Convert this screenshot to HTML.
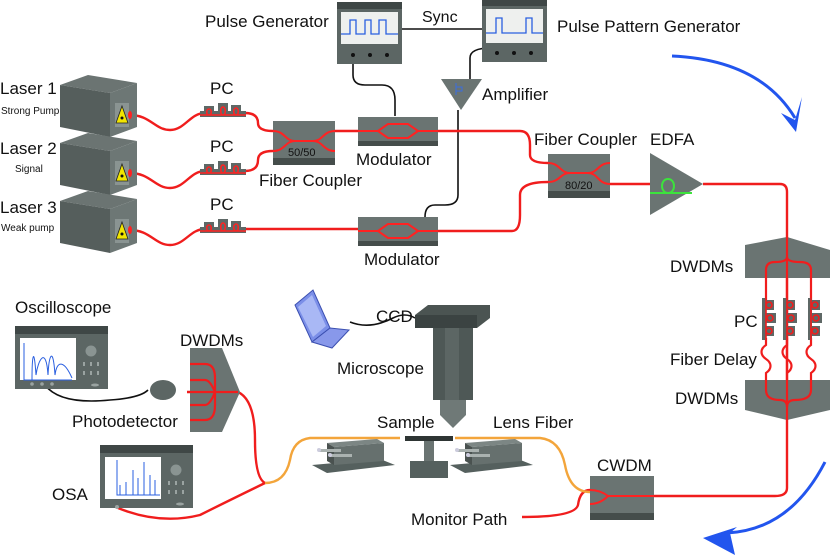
<!DOCTYPE html>
<html><head><meta charset="utf-8"><style>
html,body{margin:0;padding:0;background:#fff}
svg{display:block}
text{font-family:"Liberation Sans",sans-serif;fill:#111}
</style></head><body>
<svg width="830" height="558" viewBox="0 0 830 558" xmlns="http://www.w3.org/2000/svg">
<defs>
<g id="laser">
<polygon points="0,10 28,0 77,8 50,18" fill="#6b7472"/>
<polygon points="0,10 50,18 50,62 0,52" fill="#555e5c"/>
<polygon points="50,18 77,8 77,52 50,62" fill="#6d7775"/>
<rect x="55" y="28" width="14" height="24" fill="#8a9492"/>
<polygon points="62,31 68,48 56,48" fill="#f2e500" stroke="#222" stroke-width="0.8"/>
<circle cx="62" cy="43" r="1.5" fill="#111"/>
</g>
<g id="pc">
<rect x="0" y="8" width="46" height="6" fill="#5e6866"/>
<rect x="4" y="3" width="10" height="7" fill="#5e6866"/>
<rect x="18" y="0" width="10" height="10" fill="#5e6866"/>
<rect x="31" y="2" width="10" height="8" fill="#5e6866"/>
<path d="M0,12 H46 M9,12 c-3,0 -3,-6 0,-6 c3,0 3,6 0,6 M23,12 c-3,0 -3,-8 0,-8 c3,0 3,8 0,8 M36,12 c-3,0 -3,-7 0,-7 c3,0 3,7 0,7" fill="none" stroke="#f22" stroke-width="1.6"/>
</g>
<g id="mod">
<rect x="0" y="0" width="80" height="29" fill="#6a7472"/>
<rect x="0" y="24" width="80" height="5" fill="#454d4b"/>
<path d="M0,14 H20 L30,7 H50 L60,14 H80 M20,14 L30,21 H50 L60,14" fill="none" stroke="#f22" stroke-width="2"/>
</g>
<g id="scope">
<rect x="0" y="0" width="93" height="63" fill="#5c6664"/>
<rect x="0" y="0" width="93" height="8" fill="#3f4746"/>
<rect x="5" y="12" width="56" height="42" fill="#fff"/>
<circle cx="76" cy="25" r="5.5" fill="#8a9492"/>
<g fill="#9aa3a1"><rect x="68" y="36" width="2" height="4"/><rect x="75" y="36" width="2" height="4"/><rect x="82" y="36" width="2" height="4"/><rect x="68" y="45" width="2" height="4"/><rect x="75" y="45" width="2" height="4"/><rect x="82" y="45" width="2" height="4"/></g>
<ellipse cx="80" cy="59" rx="4" ry="1.5" fill="#9aa3a1"/>
</g>
<g id="stage">
<polygon points="0,32 68,26 83,32 15,40" fill="#55605e"/>
<polygon points="15,10 65,6 72,10 22,14" fill="#7c8684"/>
<polygon points="15,10 22,14 22,32 15,28" fill="#4a5250"/>
<polygon points="22,14 72,10 72,28 22,32" fill="#66706e"/>
<rect x="7" y="16" width="22" height="3" fill="#aab2b0"/>
<rect x="18" y="21" width="22" height="3" fill="#aab2b0"/>
<circle cx="7" cy="17" r="2" fill="#ccd"/>
<circle cx="18" cy="22" r="2" fill="#ccd"/>
</g>
</defs>

<!-- black cables -->
<g fill="none" stroke="#111" stroke-width="1.6">
<path d="M402,29 H482"/>
<path d="M353,50 V75 Q353,85 365,85 H382 Q395,85 395,100 V116"/>
<path d="M491,48 Q470,48 470,58 V79"/>
<path d="M458,110 V195 Q458,205 445,205 H435 Q425,205 425,217"/>
<path d="M350,322 Q370,330 393,318 Q405,312 415,318"/>
<path d="M45,385 Q60,405 110,400 Q140,398 148,390"/>
</g>

<!-- red fibers -->
<g fill="none" stroke="#f01d1d" stroke-width="2.4">
<path d="M130,115 C150,115 155,130 170,130 C185,130 190,113 205,113"/>
<path d="M130,173 C150,173 155,188 170,188 C185,188 190,171 205,171"/>
<path d="M130,230 C150,230 155,245 170,245 C185,245 190,229 205,229"/>
<path d="M245,113 Q258,113 258,123 Q258,131 273,131"/>
<path d="M245,171 Q258,171 258,160 Q258,151 273,151"/>
<path d="M245,229 H358"/>
<path d="M335,131 H358"/>
<path d="M438,131 H520 Q530,131 530,145 V155 Q530,163 548,163"/>
<path d="M438,231 H512 Q520,231 520,215 V195 Q520,182 548,182"/>
<path d="M610,184 H650"/>
<path d="M703,184 H780 Q787,184 787,192 V488 Q787,496 775,496 H654"/>
<path d="M590,490 Q580,490 578,505 Q575,517 522,517"/>
<path d="M187,392 H205"/>
<path d="M238,392 Q255,400 255,440 Q255,478 265,483 Q230,500 200,515 Q160,525 118,508"/>
</g>
<!-- orange fiber -->
<path d="M265,483 Q285,483 290,460 Q293,440 310,438 H400 M455,438 H540 Q560,440 565,465 Q570,492 590,492" fill="none" stroke="#f3a53b" stroke-width="2.4"/>

<!-- lasers -->
<use href="#laser" x="60" y="75"/>
<use href="#laser" x="60" y="133"/>
<use href="#laser" x="60" y="191"/>
<g fill="#f22"><ellipse cx="130" cy="115" rx="2" ry="4"/><ellipse cx="130" cy="173" rx="2" ry="4"/><ellipse cx="130" cy="230" rx="2" ry="4"/></g>
<text x="0" y="94" font-size="17">Laser 1</text>
<text x="1" y="114" font-size="10">Strong Pump</text>
<text x="0" y="154" font-size="17">Laser 2</text>
<text x="15" y="172" font-size="10">Signal</text>
<text x="0" y="213" font-size="17">Laser 3</text>
<text x="1" y="231" font-size="10">Weak pump</text>

<use href="#pc" x="200" y="103"/>
<use href="#pc" x="200" y="161"/>
<use href="#pc" x="200" y="219"/>
<text x="210" y="94" font-size="17">PC</text>
<text x="210" y="152" font-size="17">PC</text>
<text x="210" y="210" font-size="17">PC</text>

<!-- 50/50 coupler -->
<rect x="273" y="121" width="62" height="44" fill="#6a7472"/>
<rect x="273" y="158" width="62" height="7" fill="#454d4b"/>
<path d="M273,131 C285,131 285,141 295,141 H313 C323,141 323,131 335,131 M273,151 C285,151 285,141 295,141 M313,141 C323,141 323,151 335,151" fill="none" stroke="#f22" stroke-width="2"/>
<text x="288" y="156" font-size="11">50/50</text>
<text x="259" y="186" font-size="17">Fiber Coupler</text>

<use href="#mod" x="358" y="117"/>
<use href="#mod" x="358" y="217"/>
<text x="356" y="165" font-size="17">Modulator</text>
<text x="364" y="265" font-size="17">Modulator</text>

<!-- 80/20 coupler -->
<rect x="548" y="154" width="62" height="44" fill="#6a7472"/>
<rect x="548" y="191" width="62" height="7" fill="#454d4b"/>
<path d="M548,163 C560,163 560,173 570,173 H588 C598,173 598,163 610,163 M548,182 C560,182 560,173 570,173 M588,173 C598,173 598,184 610,184" fill="none" stroke="#f22" stroke-width="2"/>
<text x="565" y="189" font-size="11">80/20</text>
<text x="534" y="145" font-size="17">Fiber Coupler</text>

<!-- EDFA -->
<polygon points="650,153 703,184 650,215" fill="#6a7472"/>
<path d="M650,193 H692 M668,193 c-8,0 -8,-14 0,-14 c8,0 8,14 0,14" fill="none" stroke="#3ce33c" stroke-width="2"/>
<text x="650" y="145" font-size="17">EDFA</text>

<!-- pulse generators -->
<rect x="337" y="2" width="65" height="62" fill="#5c6664"/>
<rect x="337" y="2" width="65" height="7" fill="#3f4746"/>
<rect x="341" y="12" width="57" height="32" fill="#eef0ee"/>
<path d="M341,34 H350 V20 H356 V34 H365 V20 H371 V34 H379 V20 H386 V34 H398" fill="none" stroke="#2a5fe0" stroke-width="1.3"/>
<g fill="#111"><circle cx="353" cy="55" r="2"/><circle cx="370" cy="55" r="2"/><circle cx="387" cy="55" r="2"/></g>
<text x="205" y="27" font-size="17">Pulse Generator</text>
<rect x="482" y="0" width="65" height="62" fill="#5c6664"/>
<rect x="482" y="0" width="65" height="6" fill="#3f4746"/>
<rect x="486" y="9" width="57" height="34" fill="#eef0ee"/>
<path d="M486,33 H496 V18 H502 V33 H526 V18 H532 V33 H543" fill="none" stroke="#2a5fe0" stroke-width="1.3"/>
<g fill="#111"><circle cx="497" cy="53" r="2"/><circle cx="514" cy="53" r="2"/><circle cx="531" cy="53" r="2"/></g>
<text x="422" y="22" font-size="16">Sync</text>
<text x="557" y="32" font-size="17">Pulse Pattern Generator</text>
<polygon points="441,79 482,79 461,110" fill="#6a7472"/>
<path d="M456,83 V95 M456,87 h6 v4 h-6" fill="none" stroke="#3a6ee0" stroke-width="1"/>
<text x="482" y="100" font-size="17">Amplifier</text>

<!-- right DWDMs -->
<polygon points="745,245 787,237 830,250 830,278 745,278" fill="#6a7472"/>
<polygon points="745,380 830,380 830,410 787,420 745,410" fill="#6a7472"/>
<g fill="none" stroke="#f01d1d" stroke-width="2.2">
<path d="M787,237 V420"/>
<path d="M787,257 Q787,262 775,262 Q766,262 766,270 V300 M787,257 Q787,262 800,262 Q811,262 811,270 V300"/>
<path d="M766,338 V345 c-6,4 -6,10 0,14 c6,4 6,10 0,14 V390 Q766,400 780,400 Q787,400 787,407"/>
<path d="M787,338 V345 c-6,4 -6,10 0,14 c6,4 6,10 0,14"/>
<path d="M811,338 V345 c-6,4 -6,10 0,14 c6,4 6,10 0,14 V390 Q811,400 795,400 Q787,400 787,407"/>
</g>
<g fill="#5e6866">
<rect x="762" y="298" width="4" height="42"/><rect x="783" y="298" width="4" height="42"/><rect x="808" y="298" width="4" height="42"/>
<rect x="766" y="300" width="8" height="10"/><rect x="766" y="313" width="10" height="10"/><rect x="766" y="326" width="8" height="10"/>
<rect x="787" y="300" width="8" height="10"/><rect x="787" y="313" width="10" height="10"/><rect x="787" y="326" width="8" height="10"/>
<rect x="812" y="300" width="8" height="10"/><rect x="812" y="313" width="10" height="10"/><rect x="812" y="326" width="8" height="10"/>
</g>
<g fill="none" stroke="#f01d1d" stroke-width="1.6">
<path d="M766,298 V340 M787,298 V340 M811,298 V340"/>
<circle cx="769" cy="305" r="3"/><circle cx="770" cy="318" r="3"/><circle cx="769" cy="331" r="3"/>
<circle cx="790" cy="305" r="3"/><circle cx="791" cy="318" r="3"/><circle cx="790" cy="331" r="3"/>
<circle cx="815" cy="305" r="3"/><circle cx="816" cy="318" r="3"/><circle cx="815" cy="331" r="3"/>
</g>
<text x="670" y="272" font-size="17">DWDMs</text>
<text x="734" y="327" font-size="17">PC</text>
<text x="670" y="365" font-size="17">Fiber Delay</text>
<text x="675" y="404" font-size="17">DWDMs</text>

<!-- CWDM -->
<rect x="590" y="476" width="64" height="44" fill="#6a7472"/>
<rect x="590" y="513" width="64" height="7" fill="#454d4b"/>
<path d="M590,490 Q600,490 608,496 H654 M590,504 Q600,504 608,496" fill="none" stroke="#f22" stroke-width="2"/>
<text x="597" y="471" font-size="17">CWDM</text>
<text x="411" y="525" font-size="17">Monitor Path</text>

<!-- microscope / laptop -->
<polygon points="415,315 428,305 490,305 490,318 477,328 415,328" fill="#4b5452"/>
<polygon points="415,315 477,315 477,328 415,328" fill="#3b4342"/>
<rect x="433" y="328" width="40" height="72" fill="#4e5856"/>
<rect x="445" y="328" width="14" height="72" fill="#5c6664"/>
<path d="M440,400 H466 L466,415 L453,428 L440,415 Z" fill="#6f7977"/>
<path d="M295,305 L313,290 L330,328 L312,342 Z" fill="#7b8fe8" stroke="#3b4fb0" stroke-width="1"/>
<path d="M298,307 L312,295 L326,326 L313,337 Z" fill="#a9b8f5"/>
<path d="M312,342 L330,328 L349,330 L332,348 Z" fill="#8898ea" stroke="#3b4fb0" stroke-width="1"/>
<text x="376" y="322" font-size="17">CCD</text>
<text x="337" y="374" font-size="17">Microscope</text>
<text x="377" y="428" font-size="17">Sample</text>
<text x="493" y="428" font-size="17">Lens Fiber</text>

<use href="#stage" x="312" y="433"/>
<use href="#stage" x="450" y="433"/>
<rect x="405" y="436" width="48" height="5" fill="#2e3534"/>
<rect x="424" y="441" width="10" height="22" fill="#6a7472"/>
<rect x="410" y="461" width="38" height="17" fill="#55605e"/>

<!-- oscilloscope / OSA -->
<use href="#scope" x="15" y="326"/>
<path d="M24,343 V380 H72 M32,380 C32,355 34,345 36,375 C38,360 46,345 48,375 M48,375 C49,355 53,345 55,375 C57,360 64,360 72,378" fill="none" stroke="#2a5fe0" stroke-width="1"/>
<g fill="#9aa3a1"><circle cx="32" cy="384" r="1.8"/><circle cx="42" cy="384" r="1.8"/><circle cx="52" cy="384" r="1.8"/></g>
<text x="15" y="313" font-size="17">Oscilloscope</text>
<use href="#scope" x="100" y="445"/>
<path d="M117,460 V495 H160 M120,495 V485 M126,495 V482 M133,495 V470 M138,495 V478 M144,495 V462 M150,495 V475 M155,495 V480" fill="none" stroke="#2a5fe0" stroke-width="1"/>
<circle cx="117" cy="507" r="2" fill="#9aa3a1"/>
<text x="52" y="500" font-size="17">OSA</text>

<!-- photodetector & left DWDM -->
<ellipse cx="163" cy="390" rx="13" ry="10" fill="#5c6664"/>
<polygon points="190,348 222,348 240,392 222,432 190,432" fill="#6a7472"/>
<path d="M190,364 H205 Q215,364 215,378 V392 M190,380 H205 Q210,380 215,392 M190,392 H238 M190,405 H205 Q210,405 215,392 M190,420 H205 Q215,420 215,405 V392" fill="none" stroke="#f01d1d" stroke-width="2.2"/>
<text x="180" y="346" font-size="17">DWDMs</text>
<text x="72" y="427" font-size="17">Photodetector</text>

<!-- blue arrows -->
<path d="M672,56 Q760,60 795,118" fill="none" stroke="#2255ee" stroke-width="3"/>
<polygon points="781,113 795,120 802,97 796,132" fill="#2255ee"/>
<path d="M825,462 Q790,530 727,533" fill="none" stroke="#2255ee" stroke-width="3"/>
<polygon points="703,538 737,527 730,533 735,555" fill="#2255ee"/>
</svg>
</body></html>
